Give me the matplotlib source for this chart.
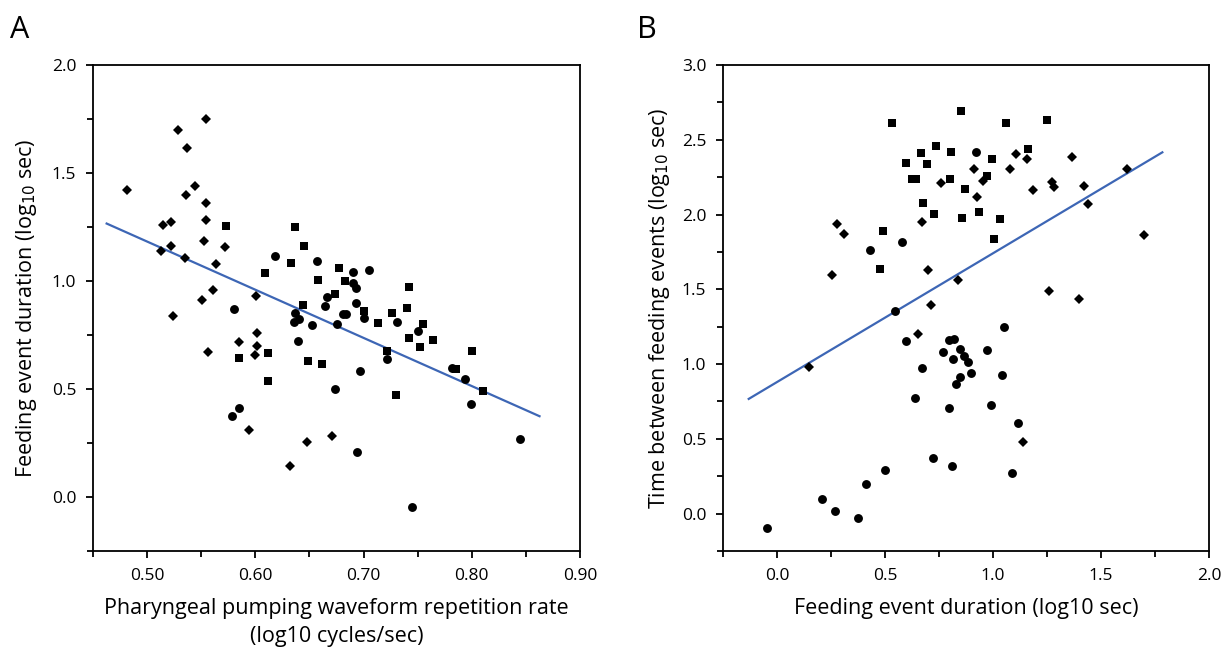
import numpy as np
import matplotlib
matplotlib.use('Agg')
import matplotlib.pyplot as plt
from matplotlib.ticker import MultipleLocator

plt.rcParams['font.family'] = ['Open Sans', 'DejaVu Sans']

# Panel A: pumping rate vs feeding event duration
a_diamond_x = [0.481, 0.529, 0.554, 0.537, 0.544, 0.536, 0.554, 0.554, 0.515, 0.522,
               0.522, 0.513, 0.535, 0.553, 0.572, 0.564, 0.561, 0.551, 0.601, 0.524,
               0.602, 0.585, 0.602, 0.556, 0.600, 0.594, 0.671, 0.648, 0.632]
a_diamond_y = [1.423, 1.698, 1.749, 1.618, 1.438, 1.397, 1.363, 1.284, 1.261, 1.275,
               1.161, 1.139, 1.108, 1.187, 1.159, 1.081, 0.957, 0.911, 0.931, 0.838,
               0.759, 0.716, 0.699, 0.673, 0.656, 0.310, 0.282, 0.253, 0.145]
a_square_x = [0.573, 0.609, 0.637, 0.645, 0.633, 0.658, 0.677, 0.674, 0.644, 0.683,
              0.742, 0.585, 0.612, 0.649, 0.662, 0.612, 0.700, 0.713, 0.726, 0.740,
              0.755, 0.742, 0.752, 0.764, 0.722, 0.730, 0.800, 0.785, 0.810]
a_square_y = [1.255, 1.037, 1.252, 1.162, 1.083, 1.003, 1.062, 0.938, 0.888, 1.000,
              0.972, 0.645, 0.667, 0.628, 0.617, 0.536, 0.860, 0.806, 0.854, 0.875,
              0.803, 0.736, 0.696, 0.727, 0.676, 0.474, 0.678, 0.594, 0.491]
a_circle_x = [0.580, 0.618, 0.657, 0.666, 0.664, 0.690, 0.705, 0.690, 0.693, 0.693,
              0.637, 0.640, 0.636, 0.652, 0.675, 0.639, 0.674, 0.585, 0.578, 0.681,
              0.684, 0.700, 0.731, 0.750, 0.722, 0.697, 0.782, 0.794, 0.799, 0.845,
              0.694, 0.745]
a_circle_y = [0.872, 1.114, 1.091, 0.926, 0.883, 1.042, 1.053, 0.991, 0.969, 0.898,
              0.854, 0.823, 0.810, 0.795, 0.803, 0.721, 0.502, 0.414, 0.377, 0.849,
              0.846, 0.831, 0.812, 0.769, 0.637, 0.582, 0.597, 0.548, 0.431, 0.269,
              0.208, -0.048]
a_fit_x = [0.4626, 0.8626]
a_fit_y = [1.266, 0.374]

# Panel B: feeding event duration vs time between events
b_square_x = [0.852, 0.533, 0.735, 0.666, 0.805, 0.595, 0.695, 0.626, 0.644, 0.800,
              0.872, 0.933, 0.677, 0.728, 0.856, 0.492, 0.475, 1.062, 1.250, 1.161,
              0.997, 0.974, 1.033, 1.004]
b_square_y = [2.695, 2.614, 2.458, 2.409, 2.418, 2.343, 2.338, 2.236, 2.240, 2.238,
              2.169, 2.019, 2.079, 2.001, 1.975, 1.890, 1.633, 2.610, 2.635, 2.436,
              2.371, 2.260, 1.972, 1.838]
b_diamond_x = [0.911, 0.760, 0.926, 0.672, 0.280, 0.310, 0.256, 0.698, 0.837, 0.714,
               1.108, 1.159, 1.366, 1.078, 0.956, 1.619, 1.272, 1.283, 1.423, 1.187,
               1.438, 1.698, 1.261, 1.397, 0.146, 0.655, 1.139]
b_diamond_y = [2.307, 2.213, 2.115, 1.950, 1.936, 1.869, 1.595, 1.631, 1.564, 1.392,
               2.407, 2.371, 2.387, 2.302, 2.226, 2.305, 2.215, 2.186, 2.193, 2.162,
               2.070, 1.865, 1.490, 1.434, 0.981, 1.202, 0.477]
b_circle_x = [0.922, 0.581, 0.432, 0.547, 0.597, 0.798, 0.820, 0.769, 0.848, 0.814,
              0.866, 0.882, 0.900, 0.848, 0.831, 0.673, 0.640, 0.796, 0.722, 0.811,
              0.501, 0.413, 0.210, 0.270, 0.375, -0.046, 1.050, 0.970, 1.041, 0.991,
              1.115, 1.090]
b_circle_y = [2.418, 1.814, 1.760, 1.354, 1.151, 1.160, 1.171, 1.078, 1.098, 1.035,
              1.053, 1.015, 0.941, 0.914, 0.865, 0.973, 0.770, 0.709, 0.375, 0.317,
              0.290, 0.196, 0.100, 0.017, -0.027, -0.096, 1.245, 1.091, 0.926, 0.729,
              0.609, 0.274]
b_fit_x = [-0.131, 1.784]
b_fit_y = [0.767, 2.416]

line_color = '#3d66b5'

fig = plt.figure(figsize=(12.3, 6.55), dpi=100)
ax_a = fig.add_axes([93 / 1230, 1 - 551 / 655, 487 / 1230, 486 / 655])
ax_b = fig.add_axes([723 / 1230, 1 - 551 / 655, 486 / 1230, 486 / 655])


def draw_points(ax, dx, dy, sx, sy, cx, cy, fx, fy):
    ax.plot(fx, fy, '-', color=line_color, lw=1.6, zorder=2)
    ax.plot(dx, dy, 'D', color='black', ms=5.2, mew=0, ls='none', zorder=3)
    ax.plot(sx, sy, 's', color='black', ms=5.6, mew=0, ls='none', zorder=3)
    ax.plot(cx, cy, 'o', color='black', ms=6.4, mew=0, ls='none', zorder=3)


def style_axes(ax):
    for s in ax.spines.values():
        s.set_linewidth(1.3)
    ax.tick_params(which='both', direction='out', width=1.3, labelsize=12.5,
                   top=False, right=False)
    ax.tick_params(which='major', length=5, pad=7)
    ax.tick_params(which='minor', length=4)


draw_points(ax_a, a_diamond_x, a_diamond_y, a_square_x, a_square_y,
            a_circle_x, a_circle_y, a_fit_x, a_fit_y)
ax_a.set_xlim(0.45, 0.90)
ax_a.set_ylim(-0.25, 2.0)
ax_a.set_xticks([0.5, 0.6, 0.7, 0.8, 0.9])
ax_a.set_xticklabels(['0.50', '0.60', '0.70', '0.80', '0.90'])
ax_a.xaxis.set_minor_locator(MultipleLocator(0.05))
ax_a.set_yticks([0.0, 0.5, 1.0, 1.5, 2.0])
ax_a.set_yticklabels(['0.0', '0.5', '1.0', '1.5', '2.0'])
ax_a.yaxis.set_minor_locator(MultipleLocator(0.25))
style_axes(ax_a)
ax_a.set_xlabel('Pharyngeal pumping waveform repetition rate\n(log10 cycles/sec)',
                fontsize=15.5, labelpad=10, linespacing=1.45)
ax_a.set_ylabel('Feeding event duration (log$_{10}$ sec)', fontsize=15.5, labelpad=9)

draw_points(ax_b, b_diamond_x, b_diamond_y, b_square_x, b_square_y,
            b_circle_x, b_circle_y, b_fit_x, b_fit_y)
ax_b.set_xlim(-0.25, 2.0)
ax_b.set_ylim(-0.25, 3.0)
ax_b.set_xticks([0.0, 0.5, 1.0, 1.5, 2.0])
ax_b.set_xticklabels(['0.0', '0.5', '1.0', '1.5', '2.0'])
ax_b.xaxis.set_minor_locator(MultipleLocator(0.25))
ax_b.set_yticks([0.0, 0.5, 1.0, 1.5, 2.0, 2.5, 3.0])
ax_b.set_yticklabels(['0.0', '0.5', '1.0', '1.5', '2.0', '2.5', '3.0'])
ax_b.yaxis.set_minor_locator(MultipleLocator(0.25))
style_axes(ax_b)
ax_b.set_xlabel('Feeding event duration (log10 sec)', fontsize=15.5, labelpad=10)
ax_b.set_ylabel('Time between feeding events (log$_{10}$ sec)', fontsize=15.5, labelpad=7)

fig.text(10 / 1230, 1 - 30 / 655, 'A', fontsize=22, va='center', ha='left')
fig.text(637 / 1230, 1 - 30 / 655, 'B', fontsize=22, va='center', ha='left')

fig.savefig('out.png', dpi=100)
